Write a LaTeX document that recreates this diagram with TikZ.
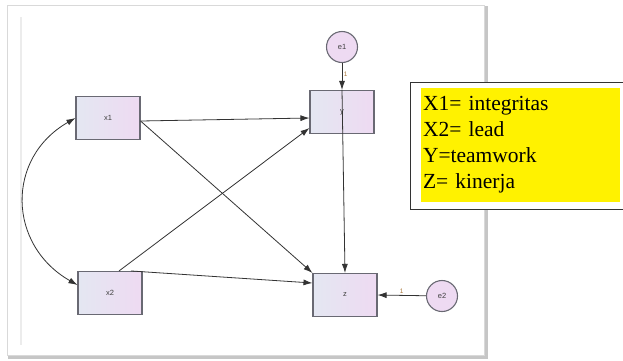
\documentclass[tikz,border=0pt]{standalone}
\usepackage{fontspec}
\setmainfont{Liberation Serif}
\setsansfont{Liberation Sans}
\newfontfamily\keyfont{Liberation Serif}
\usetikzlibrary{arrows.meta, positioning, calc}
\usepackage{xcolor}
\definecolor{cBoxL}{RGB}{228,231,242}
\definecolor{cBoxR}{RGB}{238,218,242}
\definecolor{cEdge}{RGB}{105,105,115}
\definecolor{cOne}{RGB}{170,120,60}

\tikzset{
  obs/.style={draw=cEdge, line width=1.1pt, left color=cBoxL, right color=cBoxR,
    minimum width=64pt, minimum height=43pt, inner sep=0pt, text=black!75},
  err/.style={circle, draw=cEdge, line width=1.1pt, fill=cBoxR,
    minimum size=31pt, inner sep=0pt, text=black!75},
  reg/.style={-{Latex[length=9pt,width=6pt]}, line width=0.8pt, draw=black!80},
  cov/.style={{Latex[length=9pt,width=6pt]}-{Latex[length=9pt,width=6pt]}, line width=0.8pt, draw=black!80},
  wt/.style={font=\sffamily\fontsize{6.5}{7}\selectfont, text=cOne, inner sep=1.5pt}
}

\begin{document}
\begin{tikzpicture}[x=1pt, y=-1pt, font=\sffamily\fontsize{7.5}{8}\selectfont]
  \useasboundingbox (0,0) rectangle (623,360);
  % frame of the amos canvas
  \fill[white] (0,0) rectangle (623,360);
  \draw[gray!45, line width=3pt] (9,7) rectangle (486,357);
  \draw[gray!30, line width=1pt, fill=white] (7,5) rectangle (484,355);
  \draw[gray!15, line width=2pt] (21,17) -- (21,345);

  % variables
  \node[obs] (x1) at (108,118) {x1};
  \node[obs] (x2) at (110,293) {x2};
  \node[obs] (y) at (342,112) {y};
  \node[obs] (z) at (345,295) {z};
  \node[err] (e1) at (342,47) {e1};
  \node[err] (e2) at (442,296) {e2};

  % paths
  \draw[reg] ([yshift=-3pt]x1.east) -- ([yshift=-6pt]y.west);
  \draw[reg] ([yshift=-3pt]x1.east) -- (z.north west);
  \draw[reg] ([xshift=9pt]x2.north) -- ([yshift=-16pt]y.west);
  \draw[reg] ([xshift=21pt]x2.north) -- ([yshift=12pt]z.west);
  \draw[reg] (y.north) -- (z.north);
  \draw[reg] (e1.south) -- node[wt, anchor=west, pos=0.4] {1} (y.north);
  \draw[reg] (e2) -- node[wt, above, pos=0.5] {1} (z.east);
  \draw[cov] (x1.west) .. controls +(-70,40) and +(-70,-40) .. ([yshift=8pt]x2.west);

  % key
  \node[draw=black!80, line width=0.8pt, fill=white, minimum width=215pt,
    minimum height=127pt, inner sep=0pt] (keybox) at (517.5,145.5) {};
  \node[fill=yellow, minimum width=199pt, minimum height=114pt, text width=195pt,
    align=left, inner sep=2pt, font=\keyfont\fontsize{21.5}{26}\selectfont]
    (key) at (520.5,145) {X1= integritas\\X2= lead\\Y=teamwork\\Z= kinerja};
\end{tikzpicture}
\end{document}
